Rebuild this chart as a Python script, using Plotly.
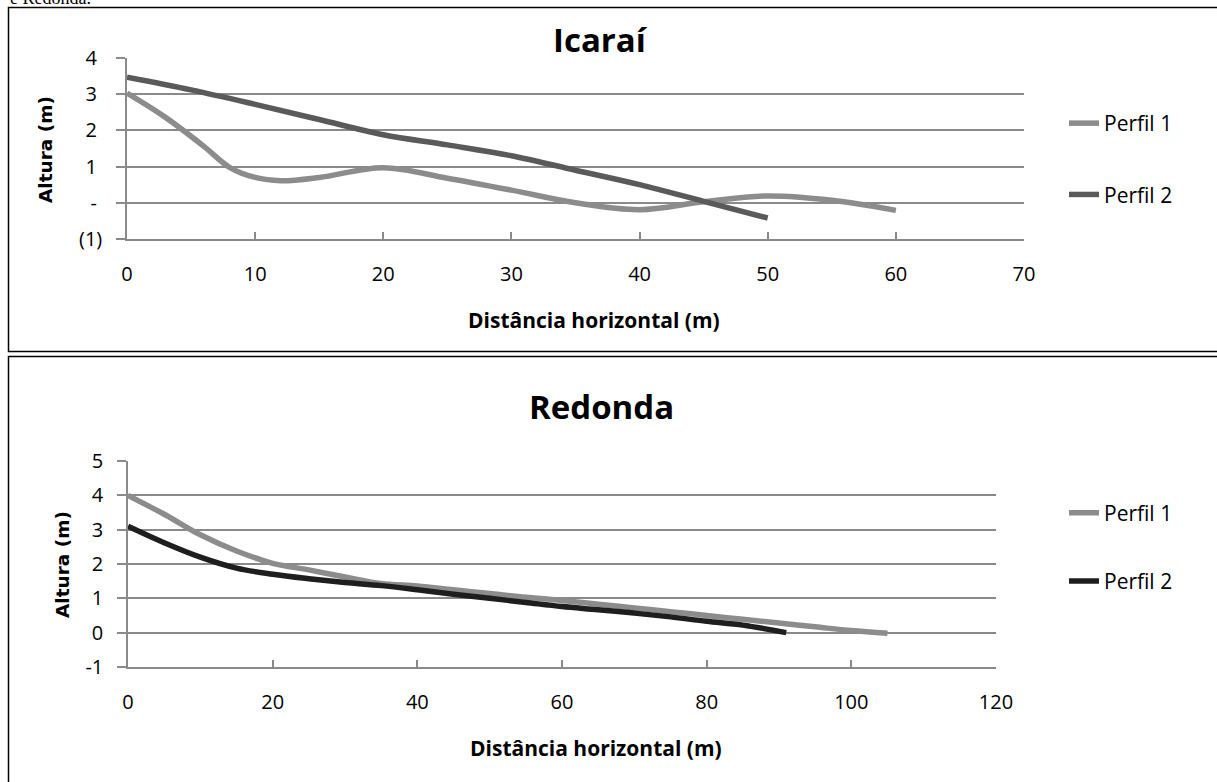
import plotly.graph_objects as go

W, H = 1217, 782

# ---------------- data ----------------
# Icaraí
icarai_p1_x = [0, 3, 6, 8, 10, 12, 15, 20, 25, 30, 35, 40, 45, 50, 55, 60]
icarai_p1_y = [3.03, 2.36, 1.56, 0.98, 0.7, 0.61, 0.7, 0.97, 0.68, 0.35, 0.0, -0.19, 0.03, 0.19, 0.07, -0.21]
icarai_p2_x = [0, 5, 10, 15, 20, 25, 30, 35, 40, 45, 50]
icarai_p2_y = [3.47, 3.12, 2.72, 2.3, 1.88, 1.6, 1.3, 0.9, 0.5, 0.04, -0.42]

# Redonda
redonda_p1_x = [0, 5, 10, 15, 20, 25, 30, 35, 40, 45, 50, 55, 60, 65, 70, 75, 80, 85, 90, 95, 100, 105]
redonda_p1_y = [4.0, 3.45, 2.85, 2.38, 2.02, 1.83, 1.62, 1.43, 1.36, 1.25, 1.14, 1.03, 0.94, 0.83, 0.72, 0.61, 0.5, 0.39, 0.28, 0.17, 0.06, -0.02]
redonda_p2_x = [0, 5, 10, 15, 20, 25, 30, 35, 40, 45, 50, 55, 60, 65, 70, 75, 80, 85, 91]
redonda_p2_y = [3.1, 2.62, 2.2, 1.88, 1.7, 1.57, 1.46, 1.37, 1.25, 1.12, 1.0, 0.88, 0.76, 0.67, 0.57, 0.46, 0.33, 0.22, 0.0]

icarai_ytick_vals = [-1, 0, 1, 2, 3, 4]
icarai_ytick_text = ["(1)", "-\u00a0", "1\u00a0", "2\u00a0", "3\u00a0", "4\u00a0"]
redonda_ytick_vals = [-1, 0, 1, 2, 3, 4, 5]
redonda_ytick_text = ["-1", "0", "1", "2", "3", "4", "5"]

series_names = ["Perfil 1", "Perfil 2"]

# ---------------- style ----------------
GRID = "#8a8a8a"
C_LIGHT = "#8c8c8c"
C_DARK = "#5a5a5a"
C_BLACK = "#1e1e1e"
TICKFONT = dict(family="Open Sans", size=20, color="black")


def px_x(p):
    return p / W


def px_y(p):
    return 1 - p / H


fig = go.Figure()

fig.add_trace(go.Scatter(x=icarai_p1_x, y=icarai_p1_y, name=series_names[0], mode="lines",
                         line=dict(color=C_LIGHT, width=5.5, shape="spline", smoothing=1),
                         xaxis="x", yaxis="y", legend="legend", legendgroup="a"))
fig.add_trace(go.Scatter(x=icarai_p2_x, y=icarai_p2_y, name=series_names[1], mode="lines",
                         line=dict(color=C_DARK, width=5.5, shape="spline", smoothing=1),
                         xaxis="x", yaxis="y", legend="legend", legendgroup="b"))
fig.add_trace(go.Scatter(x=redonda_p1_x, y=redonda_p1_y, name=series_names[0], mode="lines",
                         line=dict(color=C_LIGHT, width=5.5, shape="spline", smoothing=1),
                         xaxis="x2", yaxis="y2", legend="legend2", legendgroup="c"))
fig.add_trace(go.Scatter(x=redonda_p2_x, y=redonda_p2_y, name=series_names[1], mode="lines",
                         line=dict(color=C_BLACK, width=5.5, shape="spline", smoothing=1),
                         xaxis="x2", yaxis="y2", legend="legend2", legendgroup="d"))

xaxis_common = dict(showgrid=False, zeroline=False, showline=True, linecolor=GRID, linewidth=1.5,
                    ticks="inside", ticklen=7, tickcolor=GRID, tickwidth=1.5,
                    tickfont=TICKFONT, ticklabelstandoff=16, fixedrange=True, automargin=False)
yaxis_common = dict(showgrid=True, gridcolor=GRID, gridwidth=1.5, zeroline=False, showline=True,
                    linecolor=GRID, linewidth=1.5, ticks="outside", ticklen=9, tickcolor=GRID,
                    tickwidth=1.5, tickfont=TICKFONT, ticklabelstandoff=10, fixedrange=True,
                    automargin=False)

LEGFONT = dict(family="Open Sans", size=21, color="black")

fig.update_layout(
    width=W, height=H,
    margin=dict(l=0, r=0, t=0, b=0, pad=0, autoexpand=False),
    paper_bgcolor="white", plot_bgcolor="white",
    xaxis=dict(domain=[px_x(127), px_x(1024)], range=[0, 70], tickvals=list(range(0, 71, 10)),
               anchor="y", **xaxis_common),
    yaxis=dict(domain=[px_y(239), px_y(58)], range=[-1, 4], tickvals=icarai_ytick_vals,
               ticktext=icarai_ytick_text, anchor="x", **yaxis_common),
    xaxis2=dict(domain=[px_x(128), px_x(996)], range=[0, 120], tickvals=list(range(0, 121, 20)),
                anchor="y2", **xaxis_common),
    yaxis2=dict(domain=[px_y(667), px_y(461)], range=[-1, 5], tickvals=redonda_ytick_vals,
                ticktext=redonda_ytick_text, anchor="x2", **yaxis_common),
    legend=dict(x=px_x(1064), y=px_y(159), xanchor="left", yanchor="middle", font=LEGFONT,
                bgcolor="rgba(0,0,0,0)", tracegroupgap=41, itemclick=False, itemdoubleclick=False),
    legend2=dict(x=px_x(1064), y=px_y(547), xanchor="left", yanchor="middle", font=LEGFONT,
                 bgcolor="rgba(0,0,0,0)", tracegroupgap=38, itemclick=False, itemdoubleclick=False),
    showlegend=True,
)


def ann(text, x, y, size, family="Open Sans", angle=0, xanchor="center"):
    return dict(text=text, x=px_x(x), y=px_y(y), xref="paper", yref="paper",
                xanchor=xanchor, yanchor="middle", textangle=angle, showarrow=False,
                font=dict(family=family, size=size, color="black"))


annotations = [
    ann("e Redonda.", 8, -2, 18, family="Liberation Serif", xanchor="left"),
    ann("<b>Icaraí</b>", 600, 40, 33),
    ann("<b>Redonda</b>", 601, 406, 33),
    ann("<b>Altura (m)</b>", 46, 150, 18.5, family="DejaVu Sans", angle=-90),
    ann("<b>Altura (m)</b>", 62, 565, 18.5, family="DejaVu Sans", angle=-90),
    ann("<b>Distância horizontal (m)</b>", 594, 320, 21),
    ann("<b>Distância horizontal (m)</b>", 596, 748, 21),
]
fig.update_layout(annotations=annotations)

shapes = [
    dict(type="rect", xref="paper", yref="paper", x0=px_x(8.5), x1=px_x(1230), y0=px_y(351.5), y1=px_y(7.5),
         line=dict(color="black", width=1.5), fillcolor="rgba(0,0,0,0)", layer="below"),
    dict(type="rect", xref="paper", yref="paper", x0=px_x(8.5), x1=px_x(1230), y0=px_y(800), y1=px_y(356.5),
         line=dict(color="black", width=1.5), fillcolor="rgba(0,0,0,0)", layer="below"),
]
fig.update_layout(shapes=shapes)

fig.write_html("out.html", config={"displayModeBar": False})
